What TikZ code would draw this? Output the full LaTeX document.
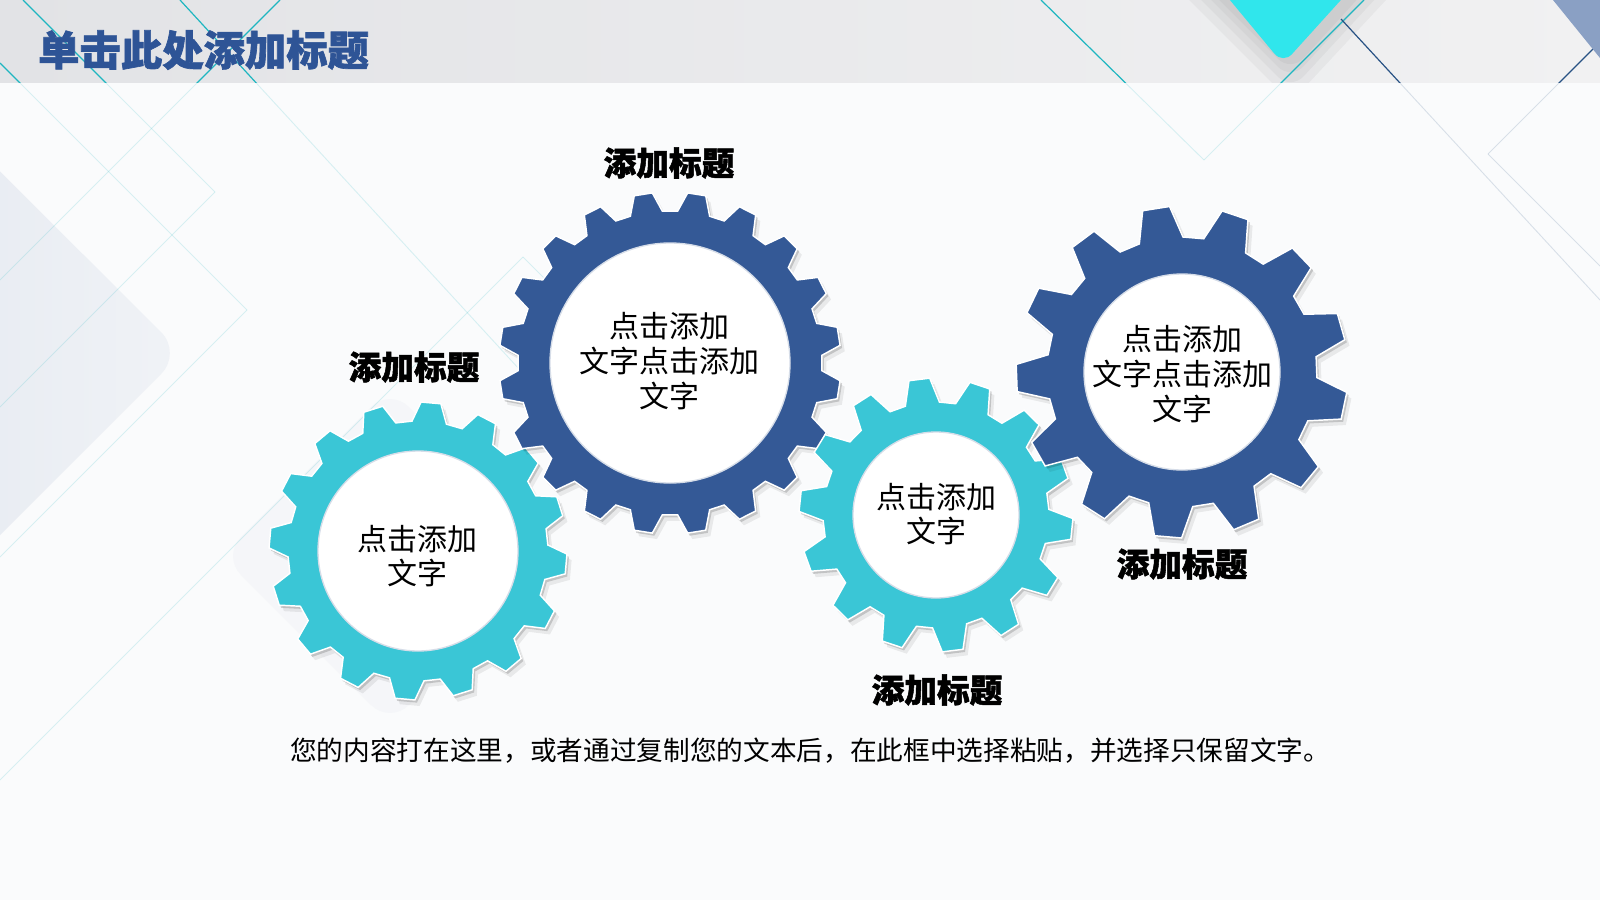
\documentclass[tikz,border=0pt]{standalone}
\usepackage{fontspec}
\setmainfont{Noto Sans CJK SC}
\newfontfamily\heavyfont{Noto Sans CJK SC}[BoldFeatures={FakeBold=1.6}]

\definecolor{gearblue}{RGB}{52,89,150}
\definecolor{gearcyan}{RGB}{58,198,214}
\definecolor{titleblue}{RGB}{46,84,150}
\definecolor{tipcyan}{RGB}{48,230,236}
\definecolor{tealline}{RGB}{30,182,192}
\definecolor{navyline}{RGB}{40,82,132}
\definecolor{headleft}{RGB}{226,227,230}
\definecolor{headright}{RGB}{241,241,242}
\definecolor{pagebg}{RGB}{250,251,252}
\definecolor{panelgray}{RGB}{225,230,238}
\definecolor{cornerblue}{RGB}{138,160,196}
\definecolor{holeedge}{RGB}{214,221,232}

\tikzset{
  gearbody/.style={draw=white, line width=1.1pt,
    preaction={fill=black, opacity=.07, transform canvas={shift={(3.5pt,-4.5pt)}}},
    preaction={fill=black, opacity=.16, transform canvas={shift={(1.5pt,-2pt)}}}},
  gearhole/.style={fill=white, draw=holeedge, line width=1pt},
  faintline/.style={line width=0.7pt, opacity=.16},
  headline/.style={line width=0.9pt},
  geartext/.style={align=center, font=\fontsize{22.5}{26}\selectfont, inner sep=0pt},
  gearlabel/.style={font=\fontsize{24.5}{28}\selectfont\heavyfont\bfseries, inner sep=0pt},
  headtitle/.style={font=\fontsize{31}{36}\selectfont\heavyfont\bfseries, text=titleblue, anchor=west, inner sep=0pt},
  note/.style={font=\fontsize{20}{24}\selectfont, inner sep=0pt}
}

\begin{document}
\begin{tikzpicture}[x=0.75pt,y=0.75pt,yscale=-1,xscale=1]
	\useasboundingbox (0,0) rectangle (1600,900);
	\clip (0,0) rectangle (1600,900);
	% page
	\fill[pagebg] (0,0) rectangle (1600,900);
	\shade[left color=panelgray, right color=panelgray!40!pagebg, rounded corners=22] (-220,-48) -- (182,353) -- (-220,755) -- cycle;
	\fill[panelgray, opacity=.2, rounded corners=20] (222,556) -- (390,388) -- (558,556) -- (390,724) -- cycle;
	% thin diagonal lines
	\foreach \ax/\ay/\bx/\by/\lc in {0/63/247/310/tealline, 247/310/0/557/tealline, 23/0/215/192/tealline, 215/192/0/407/tealline, 180/0/520/370/tealline, 280/0/0/280/tealline, 523/257/0/780/tealline, 523/257/700/434/tealline, 1041/0/1204/160/tealline, 1204/160/1364/0/tealline, 1341/19/1600/300/navyline, 1600/42/1488/154/navyline, 1488/154/1600/266/navyline}
		\draw[faintline, \lc] (\ax,\ay) -- (\bx,\by);
	% header band
	\shade[left color=headleft, right color=headright] (0,0) rectangle (1600,82);
	\begin{scope}
		\clip (0,0) rectangle (1600,82);
		\foreach \s in {8,16,26,38}
			\fill[black, opacity=.035, rounded corners=14] (1197-\s,-30) -- (1291,64+\s) -- (1376+\s,-30) -- cycle;
		\fill[tipcyan, rounded corners=10] (1205,-30) -- (1283,64) -- (1368,-30) -- cycle;
		\foreach \ax/\ay/\bx/\by/\lc in {0/63/247/310/tealline, 23/0/215/192/tealline, 180/0/520/370/tealline, 280/0/0/280/tealline, 1041/0/1204/160/tealline, 1204/160/1364/0/tealline, 1341/19/1600/300/navyline, 1600/42/1488/154/navyline}
			\draw[headline, \lc] (\ax,\ay) -- (\bx,\by);
		\fill[cornerblue] (1553,0) -- (1600,0) -- (1600,58) -- cycle;
	\end{scope}
	\draw (38,50) node [headtitle] (title) {单击此处添加标题};
	% gears: centre x / centre y / teeth / root / tip / first tooth / hole / colour
	\foreach \gx/\gy/\gn/\groot/\gtip/\goff/\ghole/\gcol in {418/551/16/130/149/275/100/gearcyan, 670/363/20/152/171/261/120/gearblue, 936/515/14/113/137/263/83/gearcyan, 1182/372/13/135/166/261/98/gearblue}{
		\pgfmathsetmacro\gpitch{360/\gn}
		\pgfmathsetmacro\gbase{0.34*\gpitch}
		\pgfmathsetmacro\gtop{0.17*\gpitch}
		\filldraw[gearbody, fill=\gcol, shift={(\gx,\gy)}] (\goff-\gbase:\groot)
			\foreach \k [evaluate=\k as \tang using \goff+(\k-1)*\gpitch] in {1,...,\gn} {
				-- (\tang-\gbase:\groot) -- (\tang-\gtop:\gtip) -- (\tang+\gtop:\gtip) -- (\tang+\gbase:\groot)} -- cycle;
		\fill[gearhole] (\gx,\gy) circle[radius=\ghole];
	}
	% texts
	\draw (417,556) node [geartext] (textA) {点击添加\\文字};
	\draw (669,361) node [geartext] (textB) {点击添加\\文字点击添加\\文字};
	\draw (936,514) node [geartext] (textC) {点击添加\\文字};
	\draw (1182,374) node [geartext] (textD) {点击添加\\文字点击添加\\文字};
	\draw (414,367) node [gearlabel] (labelA) {添加标题};
	\draw (669,163) node [gearlabel] (labelB) {添加标题};
	\draw (937,690) node [gearlabel] (labelC) {添加标题};
	\draw (1182,564) node [gearlabel] (labelD) {添加标题};
	\draw (810,751) node [note] (note) {您的内容打在这里，或者通过复制您的文本后，在此框中选择粘贴，并选择只保留文字。};
\end{tikzpicture}
\end{document}
